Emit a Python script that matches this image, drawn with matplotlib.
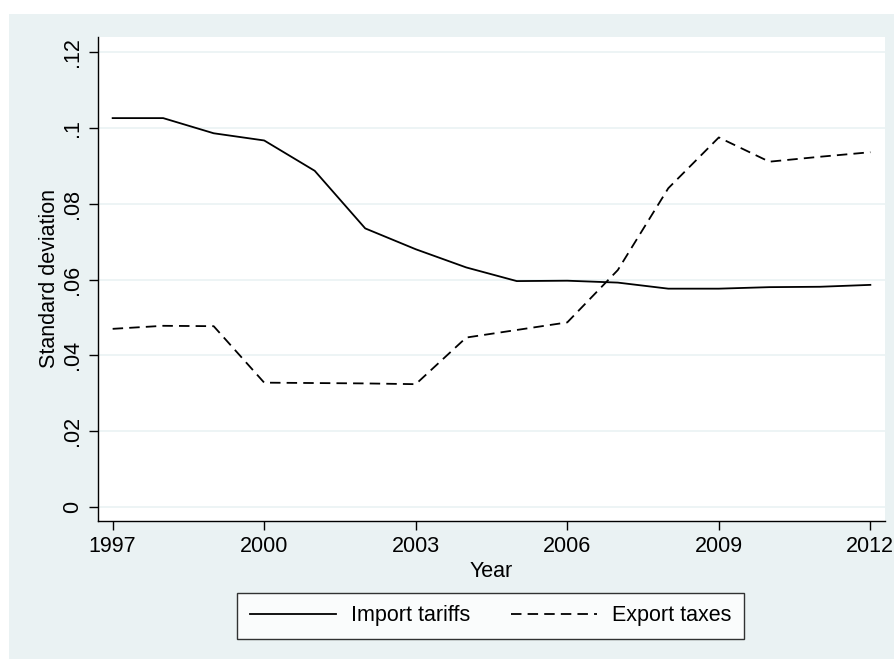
import matplotlib
matplotlib.use("Agg")
import matplotlib.pyplot as plt
from matplotlib.patches import Rectangle

plt.rcParams["font.family"] = ["Liberation Sans", "DejaVu Sans"]

# standard deviation of rates by year
years = [1997, 1998, 1999, 2000, 2001, 2002, 2003, 2004,
         2005, 2006, 2007, 2008, 2009, 2010, 2011, 2012]
import_tariffs = [0.1026, 0.1026, 0.0986, 0.0967, 0.0887, 0.0735, 0.0680, 0.0632,
                  0.0596, 0.0597, 0.0592, 0.0576, 0.0576, 0.0580, 0.0581, 0.0586]
export_taxes = [0.0470, 0.0478, 0.0477, 0.0328, 0.0327, 0.0326, 0.0324, 0.0447,
                0.0467, 0.0487, 0.0625, 0.0841, 0.0975, 0.0911, 0.0924, 0.0936]

xticks = [1997, 2000, 2003, 2006, 2009, 2012]
yticks = [0, 0.02, 0.04, 0.06, 0.08, 0.10, 0.12]
ytick_labels = ["0", ".02", ".04", ".06", ".08", ".1", ".12"]

bg = "#eaf2f3"
fs = 15.5
W, H = 894, 659

fig = plt.figure(figsize=(W / 100, H / 100), dpi=100, facecolor="white")
fig.patches.append(Rectangle((9 / W, 0), 1, 1 - 14 / H, transform=fig.transFigure,
                             facecolor=bg, edgecolor="none", zorder=-10))

ax = fig.add_axes([98 / W, 1 - 521 / H, (885 - 98) / W, (521 - 37) / H])
ax.set_facecolor("white")

ax.plot(years, import_tariffs, color="black", lw=1.3, label="Import tariffs")
ax.plot(years, export_taxes, color="black", lw=1.3, linestyle=(0, (5.8, 3.4)),
        label="Export taxes")

ax.set_xlim(1996.71, 2012.29)
ax.set_ylim(-0.0037, 0.124)
ax.set_xticks(xticks)
ax.set_yticks(yticks)
ax.set_yticklabels(ytick_labels, rotation=90, va="center")
ax.grid(axis="y", color=bg, lw=1.2)
ax.set_axisbelow(True)

for side in ["top", "right"]:
    ax.spines[side].set_visible(False)
for side in ["left", "bottom"]:
    ax.spines[side].set_linewidth(1.0)
ax.tick_params(axis="both", length=6.5, width=1.0, labelsize=fs, pad=4)

ax.set_xlabel("Year", fontsize=fs, labelpad=3)
ax.set_ylabel("Standard deviation", fontsize=fs, labelpad=2)

leg = fig.legend(loc="center", bbox_to_anchor=((236 + 745) / 2 / W, 1 - 616 / H),
                 ncol=2, fontsize=fs, frameon=True, fancybox=False,
                 handlelength=4.0, handletextpad=0.7, columnspacing=1.9,
                 borderpad=0.6, edgecolor="black")
leg.get_frame().set_linewidth(1.0)

fig.savefig("out.png", dpi=100, facecolor="white")
